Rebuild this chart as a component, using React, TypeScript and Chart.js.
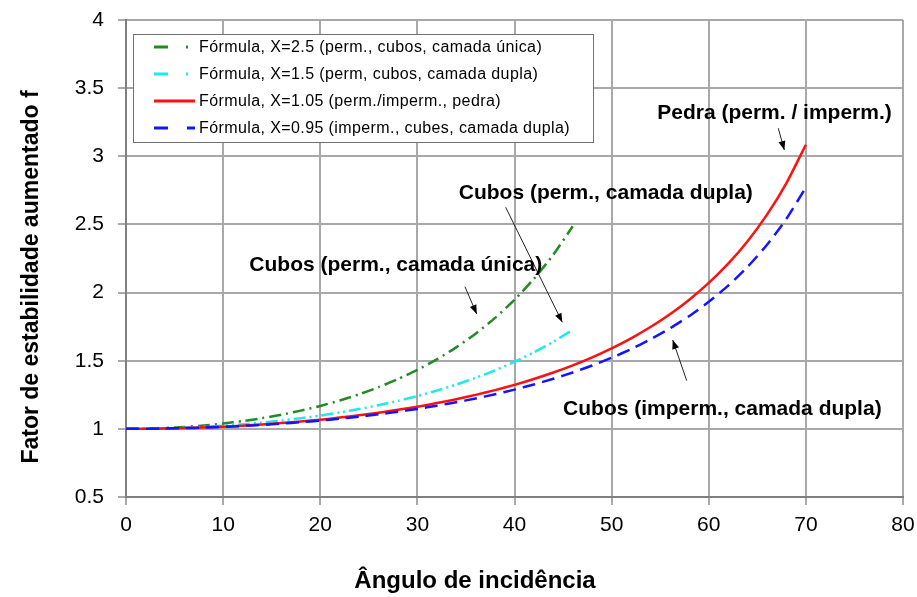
import React, { useEffect, useRef } from 'react';
import { Chart, registerables } from 'chart.js';

Chart.register(...registerables);

// Angles of incidence (degrees)
const anglesLong = [0, 2, 4, 6, 8, 10, 12, 14, 16, 18, 20, 22, 24, 26, 28, 30, 32, 34, 36, 38, 40, 42, 44, 46, 48, 50, 52, 54, 56, 58, 60, 62, 64, 66, 68, 70];
const anglesShort = [0, 2, 4, 6, 8, 10, 12, 14, 16, 18, 20, 22, 24, 26, 28, 30, 32, 34, 36, 38, 40, 42, 44, 46];

// Stability factor f
const fX250 = [1, 1.0015, 1.0061, 1.0138, 1.0247, 1.039, 1.0568, 1.0783, 1.1038, 1.1337, 1.1683, 1.2081, 1.2536, 1.3057, 1.3651, 1.4328, 1.51, 1.5981, 1.6986, 1.814, 1.9471, 2.1006, 2.2786, 2.4863];
const fX150 = [1, 1.0009, 1.0037, 1.0083, 1.0148, 1.0232, 1.0337, 1.0463, 1.0611, 1.0782, 1.0978, 1.1201, 1.1453, 1.1736, 1.2053, 1.2408, 1.2805, 1.3248, 1.3742, 1.4295, 1.4915, 1.561, 1.6391, 1.7272];
const fX105 = [1, 1.0006, 1.0026, 1.0058, 1.0103, 1.0162, 1.0235, 1.0322, 1.0424, 1.0541, 1.0675, 1.0826, 1.0996, 1.1186, 1.1397, 1.163, 1.189, 1.2176, 1.2492, 1.2842, 1.3229, 1.3658, 1.4133, 1.466, 1.5248, 1.5905, 1.6642, 1.7471, 1.8411, 1.948, 2.0706, 2.2119, 2.3772, 2.5717, 2.8038, 3.085];
const fX095 = [1, 1.0006, 1.0023, 1.0052, 1.0093, 1.0147, 1.0212, 1.0291, 1.0382, 1.0488, 1.0609, 1.0745, 1.0897, 1.1067, 1.1255, 1.1464, 1.1695, 1.195, 1.2231, 1.254, 1.2881, 1.3258, 1.3675, 1.4136, 1.4648, 1.5217, 1.5853, 1.6566, 1.7371, 1.8282, 1.9319, 2.0511, 2.1889, 2.3505, 2.5415, 2.7711];

const seriesLabels = [
  'Fórmula, X=2.5 (perm., cubos, camada única)',
  'Fórmula, X=1.5 (perm, cubos, camada dupla)',
  'Fórmula, X=1.05 (perm./imperm., pedra)',
  'Fórmula, X=0.95 (imperm., cubes, camada dupla)',
];

const xTicks = [0, 10, 20, 30, 40, 50, 60, 70, 80];
const yTicks = [0.5, 1, 1.5, 2, 2.5, 3, 3.5, 4];
const yTickLabels = ['0.5', '1', '1.5', '2', '2.5', '3', '3.5', '4'];

const xTitle = 'Ângulo de incidência';
const yTitle = 'Fator de estabilidade aumentado f';

// Callout labels (in data units) with their arrows
const calloutTexts = ['Pedra (perm. / imperm.)', 'Cubos (perm., camada dupla)', 'Cubos (perm., camada única)', 'Cubos (imperm., camada dupla)'];
const calloutX = [66.77, 49.4, 27.78, 61.4];
const calloutY = [3.318, 2.731, 2.203, 1.146];
const arrowFrom = [[67.16, 3.206], [39.09, 2.626], [34.9, 2.043], [57.73, 1.354]];
const arrowTo = [[67.78, 3.046], [44.92, 1.782], [36.11, 1.843], [56.29, 1.652]];

const FONT = '"Liberation Sans", Arial, Helvetica, sans-serif';

function drawArrow(ctx: CanvasRenderingContext2D, x0: number, y0: number, x1: number, y1: number) {
  ctx.beginPath();
  ctx.moveTo(x0, y0);
  ctx.lineTo(x1, y1);
  ctx.stroke();
  const a = Math.atan2(y1 - y0, x1 - x0);
  const L = 9;
  const W = 3.5;
  ctx.beginPath();
  ctx.moveTo(x1, y1);
  ctx.lineTo(x1 - L * Math.cos(a) + W * Math.sin(a), y1 - L * Math.sin(a) - W * Math.cos(a));
  ctx.lineTo(x1 - L * Math.cos(a) - W * Math.sin(a), y1 - L * Math.sin(a) + W * Math.cos(a));
  ctx.closePath();
  ctx.fill();
}

const decorPlugin = {
  id: 'decor',
  afterDraw(chart: any) {
    const { ctx, chartArea, scales } = chart;
    const xs = scales.x;
    const ys = scales.y;
    ctx.save();

    // callouts
    ctx.fillStyle = '#000';
    ctx.strokeStyle = '#222';
    ctx.lineWidth = 1;
    ctx.font = `bold 21px ${FONT}`;
    ctx.textAlign = 'center';
    ctx.textBaseline = 'middle';
    for (let i = 0; i < calloutTexts.length; i++) {
      ctx.fillText(calloutTexts[i], xs.getPixelForValue(calloutX[i]), ys.getPixelForValue(calloutY[i]));
      drawArrow(
        ctx,
        xs.getPixelForValue(arrowFrom[i][0]),
        ys.getPixelForValue(arrowFrom[i][1]),
        xs.getPixelForValue(arrowTo[i][0]),
        ys.getPixelForValue(arrowTo[i][1])
      );
    }

    // legend box
    const bx = chartArea.left + 7;
    const by = chartArea.top + 14;
    const bw = 460;
    const bh = 108;
    ctx.fillStyle = '#fff';
    ctx.fillRect(bx, by, bw, bh);
    ctx.strokeStyle = '#707070';
    ctx.lineWidth = 1;
    ctx.strokeRect(bx + 0.5, by + 0.5, bw, bh);
    ctx.font = `16px ${FONT}`;
    ctx.textAlign = 'left';
    ctx.textBaseline = 'middle';
    (ctx as any).letterSpacing = '0.4px';
    chart.data.datasets.forEach((ds: any, i: number) => {
      const cy = by + 13 + i * 27;
      ctx.strokeStyle = ds.borderColor;
      ctx.lineWidth = 3;
      ctx.setLineDash(ds.legendDash);
      ctx.beginPath();
      ctx.moveTo(bx + 21, cy);
      ctx.lineTo(bx + 62, cy);
      ctx.stroke();
      ctx.setLineDash([]);
      ctx.fillStyle = '#000';
      ctx.fillText(ds.label, bx + 66, cy + 1);
    });
    (ctx as any).letterSpacing = '0px';

    // axis titles
    ctx.fillStyle = '#000';
    ctx.font = `bold 24px ${FONT}`;
    ctx.textAlign = 'center';
    ctx.textBaseline = 'alphabetic';
    ctx.fillText(xTitle, 475, 588);
    ctx.translate(38, 277);
    ctx.rotate(-Math.PI / 2);
    ctx.font = `bold 23px ${FONT}`;
    ctx.fillText(yTitle, 0, 0);
    ctx.restore();
  },
};

export default function App() {
  const canvasRef = useRef<HTMLCanvasElement | null>(null);

  useEffect(() => {
    const canvas = canvasRef.current;
    if (!canvas) return;
    const chart = new Chart(canvas, {
      type: 'line',
      data: {
        datasets: [
          {
            label: seriesLabels[0],
            data: anglesShort.map((a, i) => ({ x: a, y: fX250[i] })),
            borderColor: '#228b22',
            borderWidth: 2.5,
            borderDash: [12, 5, 2, 5],
            legendDash: [14, 18, 2, 30],
            order: 3,
          } as any,
          {
            label: seriesLabels[1],
            data: anglesShort.map((a, i) => ({ x: a, y: fX150[i] })),
            borderColor: '#1ee8f0',
            borderWidth: 2.5,
            borderDash: [12, 4, 2, 4, 2, 4],
            legendDash: [14, 18, 2, 30],
            order: 2,
          } as any,
          {
            label: seriesLabels[2],
            data: anglesLong.map((a, i) => ({ x: a, y: fX105[i] })),
            borderColor: '#ff1010',
            borderWidth: 2.5,
            borderDash: [],
            legendDash: [],
            order: 1,
          } as any,
          {
            label: seriesLabels[3],
            data: anglesLong.map((a, i) => ({ x: a, y: fX095[i] })),
            borderColor: '#1414ff',
            borderWidth: 2.5,
            borderDash: [13, 7],
            legendDash: [14, 19, 10, 10],
            order: 0,
          } as any,
        ],
      },
      options: {
        animation: false,
        responsive: false,
        devicePixelRatio: 1,
        layout: { padding: { left: 0, top: 20, right: 14, bottom: 0 } },
        elements: {
          point: { radius: 0, hoverRadius: 0 },
          line: { tension: 0.2, fill: false },
        },
        plugins: {
          legend: { display: false },
          tooltip: { enabled: false },
          title: { display: false },
        },
        scales: {
          x: {
            type: 'linear',
            min: 0,
            max: 80,
            afterFit: (s: any) => {
              s.height = 100;
              s.paddingLeft = 0;
              s.paddingRight = 0;
            },
            afterBuildTicks: (s: any) => {
              s.ticks = xTicks.map((v) => ({ value: v }));
            },
            ticks: {
              color: '#000',
              font: { family: FONT, size: 21 },
              padding: 8,
              maxRotation: 0,
              callback: (v: any) => String(v),
            },
            grid: {
              color: '#a8a8a8',
              lineWidth: 2,
              tickColor: '#555',
              tickWidth: 1,
              tickLength: 8,
            },
            border: { color: '#808080', width: 2 },
          },
          y: {
            type: 'linear',
            min: 0.5,
            max: 4,
            afterFit: (s: any) => {
              s.width = 126;
              s.paddingTop = 0;
              s.paddingBottom = 0;
            },
            afterBuildTicks: (s: any) => {
              s.ticks = yTicks.map((v) => ({ value: v }));
            },
            ticks: {
              color: '#000',
              font: { family: FONT, size: 21 },
              padding: 14,
              callback: (v: any) => {
                const idx = yTicks.indexOf(Number(v));
                return idx >= 0 ? yTickLabels[idx] : String(v);
              },
            },
            grid: {
              color: '#a8a8a8',
              lineWidth: 2,
              tickColor: '#555',
              tickWidth: 1,
              tickLength: 8,
            },
            border: { color: '#808080', width: 2 },
          },
        },
      } as any,
      plugins: [decorPlugin],
    });
    return () => chart.destroy();
  }, []);

  return (
    <div style={{ position: 'fixed', left: 0, top: 0, width: 917, height: 597, background: '#fff' }}>
      <canvas ref={canvasRef} width={917} height={597} style={{ display: 'block' }} />
    </div>
  );
}
